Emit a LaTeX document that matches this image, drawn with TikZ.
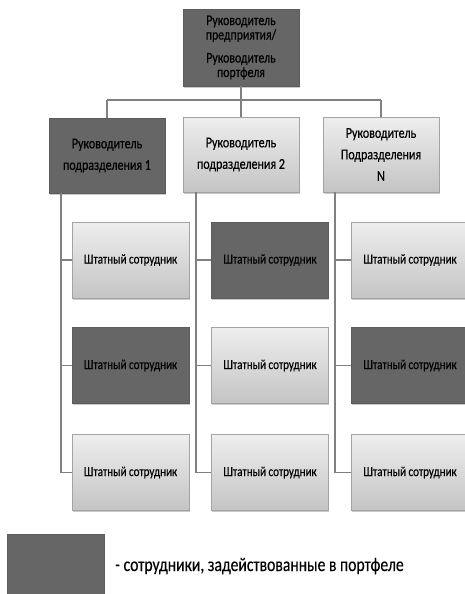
\documentclass[tikz,border=0pt]{standalone}
\usepackage{fontspec}
\setmainfont{Carlito}
\newfontfamily\cond[FakeStretch=0.8,FakeBold=0.5]{Carlito}
\newfontfamily\condleg[FakeStretch=0.8,FakeBold=0.3]{Carlito}
\usetikzlibrary{shadows}
\definecolor{dk}{HTML}{666666}
\definecolor{lttop}{HTML}{EEEEEE}
\definecolor{ltbot}{HTML}{C4C4C4}
\definecolor{bord}{HTML}{A3A3A3}
\definecolor{ln}{HTML}{808080}
\tikzset{
  box/.style={rectangle, inner sep=2pt, align=center, font=\cond\fontsize{13.8}{14.5}\selectfont,
    drop shadow={shadow xshift=0.8pt, shadow yshift=-1.8pt, opacity=0.35, fill=black!60}},
  darkbox/.style={box, fill=dk, draw=dk!90!black, line width=0.6pt},
  lightbox/.style={box, top color=lttop, bottom color=ltbot, draw=bord, line width=0.6pt},
  mgr/.style={minimum width=116pt, minimum height=75pt, font=\cond\fontsize{15}{21.5}\selectfont},
  staff/.style={minimum width=117pt, minimum height=76pt},
  conn/.style={draw=ln, line width=1.3pt}
}
\begin{document}
\begin{tikzpicture}[x=1pt,y=-1pt]
\useasboundingbox (0,0) rectangle (465,594);
\clip (0,0) rectangle (465,594);
% top
\node[darkbox, minimum width=116pt, minimum height=77pt, font=\cond\fontsize{14.8}{14.5}\selectfont] (top) at (241,47.5)
  {Руководитель\\предприятия/\\[8.5pt]Руководитель\\портфеля};
% managers
\node[darkbox, mgr] (m1) at (107,155.5) {Руководитель\\подразделения 1};
\node[lightbox, mgr] (m2) at (241,154.5) {Руководитель\\подразделения 2};
\node[lightbox, mgr] (m3) at (381,154.5) {Руководитель\\Подразделения\\N};
% staff
\node[lightbox, staff] (s11) at (130.5,260) {Штатный сотрудник};
\node[darkbox, staff] (s12) at (130.5,365.5) {Штатный сотрудник};
\node[lightbox, staff] (s13) at (130.5,472.5) {Штатный сотрудник};
\node[darkbox, staff] (s21) at (270,260) {Штатный сотрудник};
\node[lightbox, staff] (s22) at (270,365.5) {Штатный сотрудник};
\node[lightbox, staff] (s23) at (270,472.5) {Штатный сотрудник};
\node[lightbox, staff] (s31) at (410,260) {Штатный сотрудник};
\node[darkbox, staff] (s32) at (410,365.5) {Штатный сотрудник};
\node[lightbox, staff] (s33) at (410,472.5) {Штатный сотрудник};
% bus
\coordinate (busC) at (241,100);
\coordinate (busL) at (107,100);
\coordinate (busR) at (381,100);
\draw[conn] (top.south) -- (busC);
\draw[conn] (busL) -- (busR);
\draw[conn] (busL) -- (m1.north);
\draw[conn] (busC) -- (m2.north);
\draw[conn] (busR) -- (m3.north);
\coordinate (v1) at (61,193.3);
\coordinate (v2) at (196,192.3);
\coordinate (v3) at (335,192.3);
\draw[conn] (v1) |- (s13.west);
\draw[conn] (v1 |- s11.west) -- (s11.west);
\draw[conn] (v1 |- s12.west) -- (s12.west);
\draw[conn] (v2) |- (s23.west);
\draw[conn] (v2 |- s21.west) -- (s21.west);
\draw[conn] (v2 |- s22.west) -- (s22.west);
\draw[conn] (v3) |- (s33.west);
\draw[conn] (v3 |- s31.west) -- (s31.west);
\draw[conn] (v3 |- s32.west) -- (s32.west);
% legend
\node[darkbox, minimum width=97pt, minimum height=75pt, anchor=north west] (leg) at (7,534) {};
\node[anchor=west, inner sep=0pt, font=\condleg\fontsize{19.6}{22}\selectfont] (legt) at (115,566) {- сотрудники, задействованные в портфеле};
\end{tikzpicture}
\end{document}
